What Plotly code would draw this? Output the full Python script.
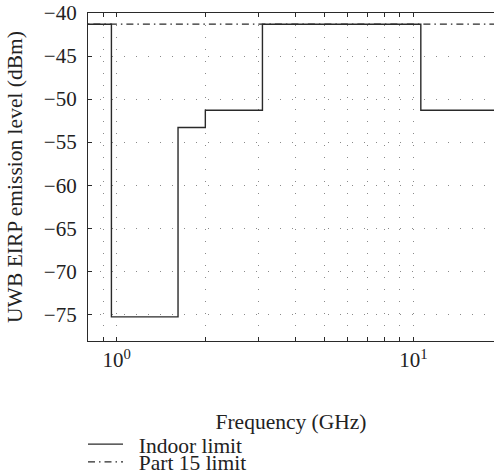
import plotly.graph_objects as go
import numpy as np

# FCC indoor UWB mask (GHz, dBm)
indoor_freq = [0.5, 0.96, 1.61, 1.99, 3.1, 10.6, 20.0]
indoor_level = [-41.3, -75.3, -53.3, -51.3, -41.3, -51.3, -51.3]
part15_freq = [0.5, 20.0]
part15_level = [-41.3, -41.3]

y_ticks = [-40, -45, -50, -55, -60, -65, -70, -75]
y_ticktext = ["\u221240", "\u221245", "\u221250", "\u221255", "\u221260", "\u221265", "\u221270", "\u221275"]
x_ticks = [0.9, 1, 2, 3, 4, 5, 6, 7, 8, 9, 10]
x_ticktext = ["", "10<sup>0</sup>", "", "", "", "", "", "", "", "", "10<sup>1</sup>"]

FONT = "Liberation Serif, Times New Roman, serif"
LC = "#2a2a2a"
FS = 21.5

fig = go.Figure()
fig.add_trace(go.Scatter(x=indoor_freq, y=indoor_level, mode="lines", line_shape="hv",
                         line=dict(color=LC, width=1.4), name="\u2002Indoor limit", legend="legend2"))
fig.add_trace(go.Scatter(x=part15_freq, y=part15_level, mode="lines",
                         line=dict(color=LC, width=1.2, dash="7px,4px,1.5px,4px"),
                         name="\u2002Part 15 limit", legend="legend3"))

fig.update_layout(
    width=494, height=475,
    margin=dict(l=88, r=0, t=13, b=134, autoexpand=False),
    paper_bgcolor="white", plot_bgcolor="white",
    font=dict(family=FONT, size=FS, color="#222"),
    legend2=dict(x=-0.0123, y=-0.252, xanchor="left", yanchor="top", itemwidth=35,
                 bgcolor="rgba(0,0,0,0)", font=dict(family=FONT, size=FS)),
    legend3=dict(x=-0.0123, y=-0.306, xanchor="left", yanchor="top", itemwidth=35,
                 bgcolor="rgba(0,0,0,0)", font=dict(family=FONT, size=FS)),
    xaxis=dict(type="log", range=[np.log10(0.8004), 1.272], automargin=False,
               tickvals=x_ticks, ticktext=x_ticktext,
               ticks="inside", ticklen=4, tickcolor=LC,
               showline=True, linecolor=LC, linewidth=1.3, mirror="ticks",
               showgrid=True, gridcolor="#8a8a8a", gridwidth=1, griddash="1px,11px",
               zeroline=False, tickfont=dict(family=FONT, size=21), ticklabelstandoff=0,
               title=dict(text="Frequency (GHz)", font=dict(family=FONT, size=FS), standoff=42)),
    yaxis=dict(range=[-78.1, -40], tickvals=y_ticks, ticktext=y_ticktext, automargin=False,
               ticks="inside", ticklen=4, tickcolor=LC,
               showline=True, linecolor=LC, linewidth=1.3, mirror=False,
               showgrid=True, gridcolor="#8a8a8a", gridwidth=1, griddash="1px,11px",
               zeroline=False, tickfont=dict(family=FONT, size=21), ticklabelstandoff=6,
               title=dict(text="UWB EIRP emission level (dBm)", font=dict(family=FONT, size=FS), standoff=15)),
)

fig.write_html("out.html")
